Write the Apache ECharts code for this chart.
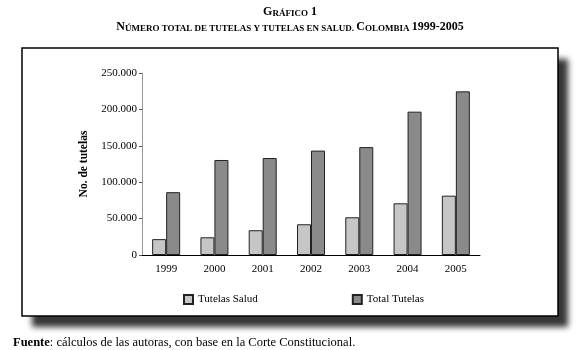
<!DOCTYPE html>
<html>
<head>
<meta charset="utf-8">
<script src="https://cdn.jsdelivr.net/npm/echarts@6/dist/echarts.min.js"></script>
<style>
  html, body { margin: 0; padding: 0; background: #fff; }
  #chart { width: 583px; height: 350px; }
</style>
</head>
<body>
<div id="chart"></div>
<script>
// datos
var years = ['1999', '2000', '2001', '2002', '2003', '2004', '2005'];
var tutelasSalud = [21800, 24300, 34000, 42200, 51800, 71000, 81500];
var totalTutelas = [86300, 130500, 133200, 143400, 148200, 196900, 224800];
var yTicks = [0, 50000, 100000, 150000, 200000, 250000];

var serif = 'Liberation Serif, Times New Roman, serif';

var chart = echarts.init(document.getElementById('chart'));

function miles(v) {
  // separador de miles con punto
  return String(v).replace(/\B(?=(\d{3})+(?!\d))/g, '.');
}

// versalitas: mayusculas grandes y pequenas alineadas abajo
var capsRich = {
  b: { fontFamily: serif, fontSize: 12, fontWeight: 'bold', fill: '#000', verticalAlign: 'bottom', lineHeight: 14 },
  s: { fontFamily: serif, fontSize: 9, fontWeight: 'bold', fill: '#000', verticalAlign: 'bottom', lineHeight: 14 }
};

var option = {
  backgroundColor: '#fff',
  animation: false,
  graphic: [
    {
      // sombra del marco
      type: 'rect',
      z: -11,
      shape: { x: 22, y: 48, width: 536, height: 268 },
      style: {
        fill: '#fff',
        shadowColor: 'rgba(55,55,55,1)',
        shadowBlur: 6,
        shadowOffsetX: 10,
        shadowOffsetY: 11
      }
    },
    {
      type: 'rect',
      z: -10,
      shape: { x: 22, y: 48, width: 536, height: 268 },
      style: { fill: '#fff', stroke: '#000', lineWidth: 1.5 }
    },
    {
      type: 'text',
      x: 290, y: 11,
      style: {
        text: '{b|G}{s|RÁFICO}{b| 1}',
        rich: capsRich,
        align: 'center',
        verticalAlign: 'middle'
      }
    },
    {
      type: 'text',
      x: 290, y: 26,
      style: {
        text: '{b|N}{s|ÚMERO TOTAL DE TUTELAS Y TUTELAS EN SALUD. }{b|C}{s|OLOMBIA }{b|1999-2005}',
        rich: capsRich,
        align: 'center',
        verticalAlign: 'middle'
      }
    },
    {
      type: 'text',
      x: 13, y: 343,
      style: {
        text: '{b|Fuente}: cálculos de las autoras, con base en la Corte Constitucional.',
        rich: { b: { fontFamily: serif, fontSize: 12.5, fontWeight: 'bold', fill: '#000' } },
        fontFamily: serif,
        fontSize: 12.5,
        fill: '#000',
        align: 'left',
        verticalAlign: 'middle'
      }
    }
  ],
  legend: {
    left: 178,
    top: 289,
    itemWidth: 9,
    itemHeight: 9,
    itemGap: 94,
    icon: 'rect',
    textStyle: { fontFamily: serif, fontSize: 11, color: '#000' },
    data: ['Tutelas Salud', 'Total Tutelas']
  },
  grid: { left: 142, right: 103, top: 73, bottom: 95 },
  xAxis: {
    type: 'category',
    data: years,
    axisLine: { lineStyle: { color: '#000', width: 1 } },
    axisTick: { inside: true, length: 3, lineStyle: { color: '#000' } },
    axisLabel: { fontFamily: serif, fontSize: 11, color: '#000', margin: 9 }
  },
  yAxis: {
    type: 'value',
    min: 0,
    max: 250000,
    interval: 50000,
    name: 'No. de tutelas',
    nameLocation: 'middle',
    nameGap: 52,
    nameTextStyle: { fontFamily: serif, fontSize: 11.5, fontWeight: 'bold', color: '#000' },
    axisLine: { show: true, lineStyle: { color: '#999', width: 1 } },
    axisTick: { show: true, length: 3, lineStyle: { color: '#555' } },
    splitLine: { show: false },
    axisLabel: {
      fontFamily: serif, fontSize: 11, color: '#000', margin: 5,
      formatter: function (v) { return yTicks.indexOf(v) >= 0 ? miles(v) : ''; }
    }
  },
  series: [
    {
      name: 'Tutelas Salud',
      type: 'bar',
      data: tutelasSalud,
      barWidth: 14,
      barGap: '0%',
      itemStyle: { color: '#c6c6c6', borderColor: '#222', borderWidth: 1 }
    },
    {
      name: 'Total Tutelas',
      type: 'bar',
      data: totalTutelas,
      barWidth: 14,
      barGap: '0%',
      itemStyle: { color: '#8a8a8a', borderColor: '#222', borderWidth: 1 }
    }
  ]
};

chart.setOption(option);
</script>
</body>
</html>
